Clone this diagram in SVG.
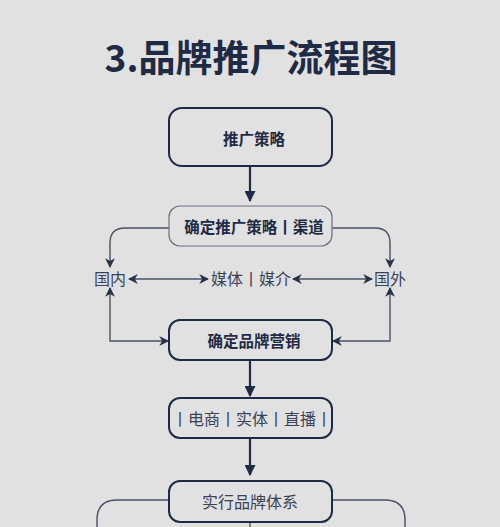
<svg xmlns="http://www.w3.org/2000/svg" width="500" height="527" viewBox="0 0 500 527">
<style>
.bg{fill:#e1e1e1}
.box{fill:#e1e1e1;stroke:#1f2a45;stroke-width:2}
.box-thin{fill:#e1e1e1;stroke:#6b7080;stroke-width:1.2}
.t{font-family:"Noto Sans CJK SC","Noto Sans",sans-serif;text-anchor:middle;dominant-baseline:central}
.tb{font-weight:bold;fill:#1f2a45;font-size:15.5px}
.tr{fill:#3a4256;font-size:16px}
.title{font-family:"Noto Sans CJK SC","Noto Sans",sans-serif;font-weight:bold;font-size:37px;fill:#1f2a45;text-anchor:middle}
.main{fill:none;stroke:#1f2a45;stroke-width:2.2}
.side{fill:none;stroke:#4a5266;stroke-width:1.4}
</style>
<defs>
<marker id="ah" viewBox="0 0 10 10" refX="9" refY="5" markerWidth="5" markerHeight="5" orient="auto-start-reverse" markerUnits="strokeWidth">
<path d="M0,0 L10,5 L0,10 Z" fill="#1f2a45"/>
</marker>
<marker id="as" viewBox="0 0 10 10" refX="9" refY="5" markerWidth="7" markerHeight="7" orient="auto-start-reverse" markerUnits="strokeWidth">
<path d="M0,0 L10,5 L0,10 L3,5 Z" fill="#2a3248"/>
</marker>
</defs>
<rect class="bg" x="0" y="0" width="500" height="527"/>
<text class="title" x="251" y="72">3.品牌推广流程图</text>
<g id="connectors">
<line class="main" x1="250" y1="166" x2="250" y2="201" marker-end="url(#ah)"/>
<path class="side" d="M170,228 H125 Q110,228 110,243 V267" marker-end="url(#as)"/>
<path class="side" d="M332,228 H375 Q390,228 390,243 V267" marker-end="url(#as)"/>
<line class="side" x1="129" y1="279" x2="208" y2="279" marker-start="url(#as)" marker-end="url(#as)"/>
<line class="side" x1="293" y1="279" x2="372" y2="279" marker-start="url(#as)" marker-end="url(#as)"/>
<path class="side" d="M110,288 V341 H168" marker-start="url(#as)" marker-end="url(#as)"/>
<path class="side" d="M390,288 V341 H333" marker-start="url(#as)" marker-end="url(#as)"/>
<line class="main" x1="250" y1="360" x2="250" y2="396" marker-end="url(#ah)"/>
<line class="main" x1="250" y1="438" x2="250" y2="475" marker-end="url(#ah)"/>
<path class="side" d="M169,500 H117 Q97,500 97,520 V527"/>
<path class="side" d="M332,500 H385 Q405,500 405,520 V527"/>
<line class="side" x1="250" y1="523" x2="250" y2="527"/>
</g>
<g id="n1"><rect class="box" x="169" y="108" width="163" height="58" rx="13"/><text class="t tb" x="254" y="138">推广策略</text></g>
<g id="n2"><rect class="box-thin" x="169" y="206" width="163" height="40" rx="11"/><text class="t tb" x="254" y="226">确定推广策略丨渠道</text></g>
<g id="n-guonei"><text class="t tr" x="110" y="278">国内</text></g>
<g id="n-meiti"><text class="t tr" x="251" y="278">媒体丨媒介</text></g>
<g id="n-guowai"><text class="t tr" x="390" y="278">国外</text></g>
<g id="n3"><rect class="box" x="169" y="320" width="163" height="40" rx="11"/><text class="t tb" x="254" y="340">确定品牌营销</text></g>
<g id="n4"><rect class="box" x="169" y="398" width="163" height="40" rx="11"/><text class="t tr" x="252" y="418">丨电商丨实体丨直播丨</text></g>
<g id="n5"><rect class="box" x="169" y="481" width="163" height="41" rx="11"/><text class="t tr" x="250" y="501">实行品牌体系</text></g>
</svg>
